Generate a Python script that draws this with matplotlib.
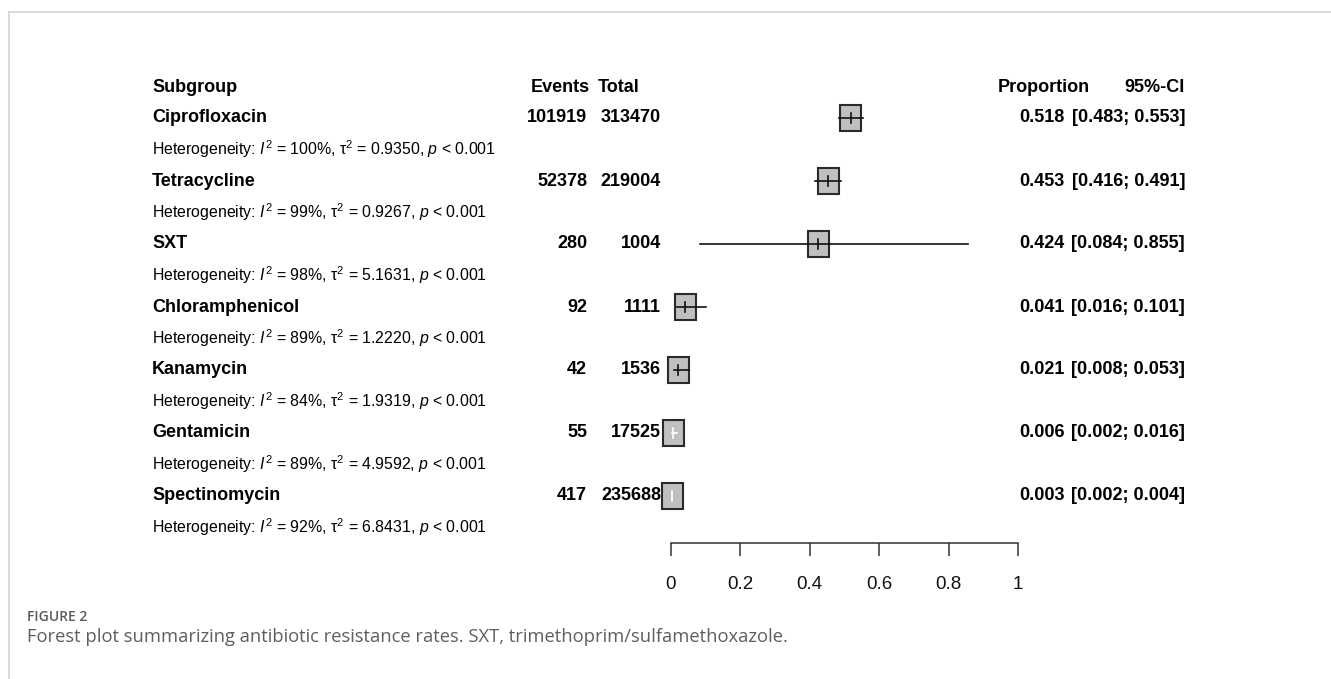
import matplotlib
matplotlib.use("Agg")
import matplotlib.pyplot as plt
import matplotlib.transforms as mtransforms
from matplotlib.patches import Rectangle
from matplotlib.lines import Line2D

plt.rcParams['font.family'] = ['Liberation Sans', 'DejaVu Sans']
plt.rcParams['mathtext.fontset'] = 'custom'
plt.rcParams['mathtext.rm'] = 'Liberation Sans'
plt.rcParams['mathtext.it'] = 'Liberation Sans:italic'

# data
subgroups = ['Ciprofloxacin', 'Tetracycline', 'SXT', 'Chloramphenicol',
             'Kanamycin', 'Gentamicin', 'Spectinomycin']
events = [101919, 52378, 280, 92, 42, 55, 417]
totals = [313470, 219004, 1004, 1111, 1536, 17525, 235688]
props = [0.518, 0.453, 0.424, 0.041, 0.021, 0.006, 0.003]
ci_low = [0.483, 0.416, 0.084, 0.016, 0.008, 0.002, 0.002]
ci_high = [0.553, 0.491, 0.855, 0.101, 0.053, 0.016, 0.004]
i2 = ['100%', '99%', '98%', '89%', '84%', '89%', '92%']
tau2 = ['0.9350', '0.9267', '5.1631', '1.2220', '1.9319', '4.9592', '6.8431']
xticks = [0, 0.2, 0.4, 0.6, 0.8, 1]

W, H = 1331, 679
fig = plt.figure(figsize=(W / 100, H / 100), dpi=100)

# forest axes: x 0..1 spans pixels 671..1018, bottom spine at pixel 543
ax = fig.add_axes([671 / W, (H - 543) / H, 347 / W, (543 - 87) / H])
row0, step = 118, 63
ax.set_ylim((543 - row0) / step, (87 - row0) / step)
ax.set_xlim(0, 1)
for s in ['top', 'right', 'left']:
    ax.spines[s].set_visible(False)
ax.spines['bottom'].set_color('#333333')
ax.spines['bottom'].set_linewidth(1.1)
ax.set_yticks([])
ax.set_xticks(xticks)
ax.set_xticklabels([f'{t:g}' for t in xticks])
ax.tick_params(axis='x', direction='out', length=9.5, width=1.1, color='#333333',
               pad=14, labelsize=13.5, labelcolor='#111111')
ax.patch.set_visible(False)

box_w, box_h = 0.0605, 0.42
for i, (p, lo, hi) in enumerate(zip(props, ci_low, ci_high)):
    ax.add_patch(Rectangle((p - box_w / 2, i - box_h / 2), box_w, box_h,
                           facecolor='#c0c0c0', edgecolor='#2a2a2a', lw=1.5,
                           clip_on=False, zorder=2))
    # CI drawn white when it fits inside the box
    inside = lo > p - box_w / 2 and hi < p + box_w / 2
    col = 'white' if inside else '#111111'
    ax.plot([lo, hi], [i, i], color=col, lw=1.2, clip_on=False, zorder=3)
    ax.plot([p, p], [i - 0.08, i + 0.08], color=col, lw=1.2, clip_on=False, zorder=3)

tr = mtransforms.blended_transform_factory(fig.transFigure, ax.transData)
fs = 13
hy = (87 - row0) / step
ax.text(152 / W, hy, 'Subgroup', transform=tr, ha='left', va='center', fontsize=fs, fontweight='bold')
ax.text(590 / W, hy, 'Events', transform=tr, ha='right', va='center', fontsize=fs, fontweight='bold')
ax.text(640 / W, hy, 'Total', transform=tr, ha='right', va='center', fontsize=fs, fontweight='bold')
ax.text(1044 / W, hy, 'Proportion', transform=tr, ha='center', va='center', fontsize=fs, fontweight='bold')
ax.text(1185 / W, hy, '95%-CI', transform=tr, ha='right', va='center', fontsize=fs, fontweight='bold')

for i, name in enumerate(subgroups):
    ax.text(152 / W, i, name, transform=tr, ha='left', va='center', fontsize=fs, fontweight='bold')
    ax.text(587 / W, i, str(events[i]), transform=tr, ha='right', va='center', fontsize=fs, fontweight='bold')
    ax.text(661 / W, i, str(totals[i]), transform=tr, ha='right', va='center', fontsize=fs, fontweight='bold')
    ax.text(1065 / W, i, f'{props[i]:.3f}', transform=tr, ha='right', va='center', fontsize=fs, fontweight='bold')
    ax.text(1185 / W, i, f'[{ci_low[i]:.3f}; {ci_high[i]:.3f}]', transform=tr, ha='right',
            va='center', fontsize=fs, fontweight='bold')
    het = (f'Heterogeneity: $\\mathit{{I}}^2$ = {i2[i]}, '
           f'τ$^2$ = {tau2[i]}, $\\mathit{{p}}$ < 0.001')
    ax.text(152 / W, i + 0.5, het, transform=tr, ha='left', va='center', fontsize=11.4)

# page frame and caption
fig.add_artist(Line2D([9 / W, 1], [1 - 12 / H, 1 - 12 / H], color='#d4d4d4', lw=1.2))
fig.add_artist(Line2D([9 / W, 9 / W], [0, 1 - 12 / H], color='#d4d4d4', lw=1.2))
fig.text(27 / W, 1 - 617 / H, 'FIGURE 2', ha='left', va='center', fontsize=10,
         color='#5a5a5a', family='Open Sans', fontweight='semibold')
fig.text(27 / W, 1 - 637 / H, 'Forest plot summarizing antibiotic resistance rates. '
         'SXT, trimethoprim/sulfamethoxazole.', ha='left', va='center', fontsize=13.2,
         color='#5e5e5e', family='Open Sans')

fig.savefig('out.png', dpi=100)
